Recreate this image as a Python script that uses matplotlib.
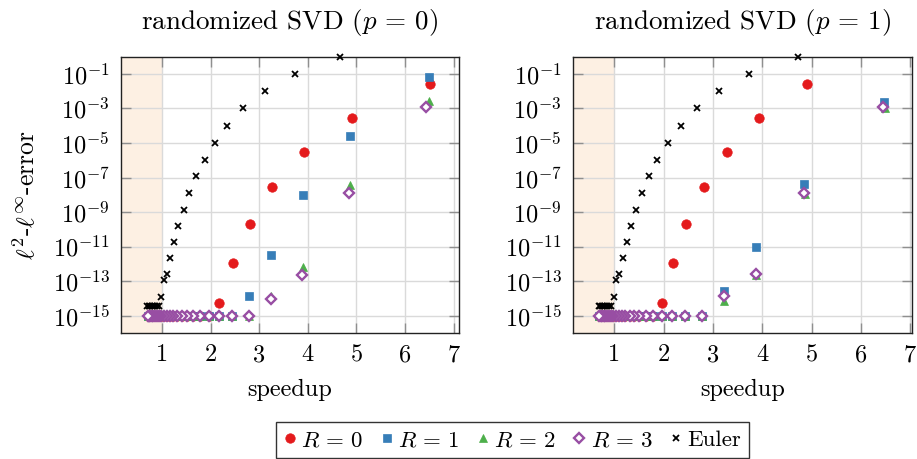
import matplotlib
matplotlib.use("Agg")
import matplotlib.pyplot as plt
from matplotlib.lines import Line2D

plt.rcParams['font.family'] = ['cmr10', 'DejaVu Serif']
plt.rcParams['mathtext.fontset'] = 'cm'
plt.rcParams['axes.formatter.use_mathtext'] = True

# ---------------- data ----------------
# shared tail of the sweep (error saturated at ~1e-15)
svd_tail_x = [1.96, 1.78, 1.635, 1.51, 1.40, 1.31, 1.225, 1.153, 1.089, 1.03,
              0.98, 0.933, 0.89, 0.852, 0.816, 0.784, 0.754, 0.726, 0.70]
euler_tail_x = [0.935, 0.89, 0.85, 0.813, 0.78, 0.748, 0.719, 0.693]
euler_y = [0.95, 1.05e-1, 1.0e-2, 1.0e-3, 1.0e-4, 1.05e-5, 1.1e-6, 1.2e-7,
           1.2e-8, 1.26e-9, 1.5e-10, 1.9e-11, 2.2e-12, 2.5e-13, 1.1e-13, 1.15e-14,
           3.5e-15, 3.5e-15, 3.5e-15, 3.5e-15, 3.5e-15, 3.5e-15, 3.5e-15, 3.5e-15]

# p = 0
r0_x_p0 = [6.52, 4.90, 3.92, 3.265, 2.80, 2.45, 2.17]
r0_y_p0 = [2.6e-2, 3.0e-4, 3.0e-6, 2.8e-8, 2.0e-10, 1.2e-12, 5.4e-15]
r1_x_p0 = [6.50, 4.87, 3.89, 3.245, 2.78, 2.435, 2.16]
r1_y_p0 = [6.6e-2, 2.5e-5, 9.8e-9, 3.4e-12, 1.45e-14, 1.0e-15, 1.0e-15]
r2_x_p0 = [6.49, 4.857, 3.89, 3.245, 2.785, 2.435, 2.16]
r2_y_p0 = [2.7e-3, 3.7e-8, 6.9e-13, 1.4e-14, 1.0e-15, 1.0e-15, 1.0e-15]
r3_x_p0 = [6.44, 4.837, 3.876, 3.244, 2.785, 2.43, 2.16]
r3_y_p0 = [1.2e-3, 1.26e-8, 2.3e-13, 8.9e-15, 1.0e-15, 1.0e-15, 1.0e-15]
euler_x_p0 = [4.67, 3.74, 3.107, 2.668, 2.33, 2.078, 1.872, 1.70, 1.556, 1.44,
              1.33, 1.247, 1.165, 1.096, 1.034, 0.98]

# p = 1
r0_x_p1 = [4.917, 3.94, 3.28, 2.81, 2.453, 2.188, 1.97]
r0_y_p1 = [2.6e-2, 3.0e-4, 3.0e-6, 2.8e-8, 2.0e-10, 1.2e-12, 5.4e-15]
r1_x_p1 = [6.465, 4.85, 3.874, 3.225, 2.779, 2.426, 2.16]
r1_y_p1 = [2.3e-3, 4.4e-8, 9.3e-12, 2.8e-14, 1.0e-15, 1.0e-15, 1.0e-15]
r2_x_p1 = [6.48, 4.86, 3.88, 3.23, 2.779, 2.426, 2.16]
r2_y_p1 = [1.07e-3, 1.15e-8, 2.2e-13, 6.8e-15, 1.0e-15, 1.0e-15, 1.0e-15]
r3_x_p1 = [6.44, 4.84, 3.87, 3.22, 2.779, 2.426, 2.16]
r3_y_p1 = [1.17e-3, 1.26e-8, 2.6e-13, 1.3e-14, 1.0e-15, 1.0e-15, 1.0e-15]
euler_x_p1 = [4.73, 3.74, 3.125, 2.67, 2.344, 2.08, 1.876, 1.706, 1.563, 1.448,
              1.333, 1.251, 1.17, 1.10, 1.04, 0.986]

titles = [r'randomized SVD ($p\,=\,0$)', r'randomized SVD ($p\,=\,1$)']
x_ticks = [1, 2, 3, 4, 5, 6, 7]
y_ticks = [1e-1, 1e-3, 1e-5, 1e-7, 1e-9, 1e-11, 1e-13, 1e-15]
y_ticklabels = [r'$10^{-1}$', r'$10^{-3}$', r'$10^{-5}$', r'$10^{-7}$',
                r'$10^{-9}$', r'$10^{-11}$', r'$10^{-13}$', r'$10^{-15}$']
labels = [r'$R\,=\,0$', r'$R\,=\,1$', r'$R\,=\,2$', r'$R\,=\,3$', 'Euler']

colors = ['#e41a1c', '#377eb8', '#4daf4a', '#984ea3', 'black']

# ---------------- figure ----------------
fig = plt.figure(figsize=(9.17, 4.59), dpi=100)
ax0 = fig.add_axes([0.1316, 0.2745, 0.3689, 0.602])
ax1 = fig.add_axes([0.6245, 0.2745, 0.3697, 0.602])
xlims = [(0.144, 7.11), (0.156, 7.03)]

sets = [
    (r0_x_p0, r0_y_p0, r1_x_p0, r1_y_p0, r2_x_p0, r2_y_p0, r3_x_p0, r3_y_p0, euler_x_p0),
    (r0_x_p1 + svd_tail_x[1:], r0_y_p1 + [1.0e-15] * (len(svd_tail_x) - 1),
     r1_x_p1, r1_y_p1, r2_x_p1, r2_y_p1, r3_x_p1, r3_y_p1, euler_x_p1),
]

def style():
    return [
        dict(marker='o', ms=6.8, mfc=colors[0], mec=colors[0], mew=0.5),
        dict(marker='s', ms=6.2, mfc=colors[1], mec=colors[1], mew=0.5),
        dict(marker='^', ms=6.2, mfc=colors[2], mec=colors[2], mew=0.5),
        dict(marker='D', ms=4.8, mfc='white', mec=colors[3], mew=1.7),
        dict(marker='x', ms=4.3, mfc='black', mec='black', mew=1.3),
    ]

for i, ax in enumerate([ax0, ax1]):
    s = sets[i]
    st = style()
    if i == 0:
        r0x = s[0] + svd_tail_x
        r0y = s[1] + [1.0e-15] * len(svd_tail_x)
    else:
        r0x, r0y = s[0], s[1]
    series = [
        (r0x, r0y),
        (s[2] + svd_tail_x, s[3] + [1.0e-15] * len(svd_tail_x)),
        (s[4] + svd_tail_x, s[5] + [1.0e-15] * len(svd_tail_x)),
        (s[6] + svd_tail_x, s[7] + [1.0e-15] * len(svd_tail_x)),
        (s[8] + euler_tail_x, euler_y),
    ]
    ax.axvspan(xlims[i][0], 1.0, color='#fdf0e3', zorder=0, lw=0)
    for k, (xx, yy) in enumerate(series):
        ax.plot(xx, yy, linestyle='none', zorder=3 + k, clip_on=False, **st[k])
    ax.set_yscale('log')
    ax.set_ylim(1e-16, 1e0)
    ax.set_xlim(*xlims[i])
    ax.set_xticks(x_ticks)
    ax.set_xticklabels([str(t) for t in x_ticks])
    ax.set_yticks(y_ticks)
    ax.set_yticklabels(y_ticklabels)
    ax.yaxis.set_minor_locator(matplotlib.ticker.NullLocator())
    ax.grid(True, color='#dadada', lw=1.0, zorder=1)
    ax.set_axisbelow(True)
    ax.tick_params(direction='in', length=7, width=1.0, color='#8f8f8f',
                   top=True, right=True, labelsize=17.5, pad=8)
    for sp in ax.spines.values():
        sp.set_linewidth(1.0)
        sp.set_color('#222222')
    ax.set_title(titles[i], fontsize=19.5, pad=20)
    ax.set_xlabel('speedup', fontsize=17.5, labelpad=9)

ax0.set_ylabel(r'$\ell^2$-$\ell^\infty$-error', fontsize=18.5, labelpad=9)

st = style()
handles = [Line2D([], [], linestyle='none', **st[k]) for k in range(5)]
leg = fig.legend(handles, labels, loc='lower center', bbox_to_anchor=(0.559, 0.002),
                 ncol=5, fontsize=16.5, frameon=True, fancybox=False,
                 edgecolor='black', handlelength=0.5, handletextpad=0.25,
                 columnspacing=0.75, borderpad=0.35, borderaxespad=0.0)
leg.get_frame().set_linewidth(1.0)

fig.savefig('out.png', dpi=100)
